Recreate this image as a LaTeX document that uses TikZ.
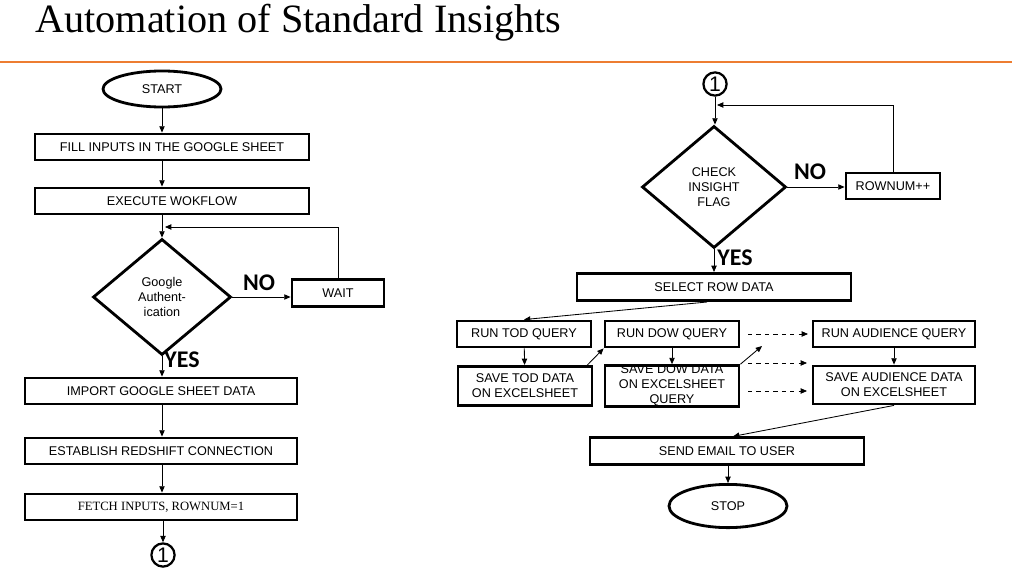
\documentclass[tikz,border=0pt]{standalone}
\usepackage{fontspec}
\setmainfont{Liberation Sans}
\newfontfamily\serifface{Liberation Serif}
\newfontfamily\tagface{Carlito}
\usetikzlibrary{positioning,shapes.geometric,arrows.meta,calc}
\definecolor{slideorange}{RGB}{237,125,49}

\begin{document}
\begin{tikzpicture}[
    x=0.025cm, y=-0.025cm,
    every node/.style={font=\fontsize{9}{10.5}\selectfont},
    block/.style={draw, line width=2pt, minimum height=0.65cm, align=center, inner sep=2pt},
    term/.style={draw, ellipse, line width=2pt, inner sep=0pt},
    decide/.style={draw, diamond, line width=2pt, inner sep=0pt, align=center},
    conn/.style={draw, circle, line width=1.6pt, inner sep=0pt, minimum size=0.58cm, font=\fontsize{15}{15}\selectfont},
    tag/.style={font=\tagface\bfseries\fontsize{17}{17}\selectfont, inner sep=0pt},
    arr/.style={-{Triangle[length=4.5pt,width=3.8pt]}, line width=0.6pt},
]
\useasboundingbox (0,0) rectangle (1012,578);

% Header: title and orange rule
\node[anchor=base west, inner sep=0pt, font=\serifface\fontsize{28.6}{28.6}\selectfont] (title) at (35,33) {Automation of Standard Insights};
\coordinate (ruleL) at (0,62);
\coordinate (ruleR) at (1012,62);
\draw[slideorange, line width=1.5pt] (ruleL) -- (ruleR);

% Left column
\node[term, minimum width=2.95cm, minimum height=0.9cm] (start) at (162,89) {START};
\node[block, minimum width=6.85cm] (fill) at (172,147) {FILL INPUTS IN THE GOOGLE SHEET};
\node[block, minimum width=6.85cm] (exec) at (172,201) {EXECUTE WOKFLOW};
\node[decide, minimum width=3.45cm, minimum height=2.9cm] (auth) at (162,297) {Google\\Authent-\\ication};
\node[block, minimum width=2.3cm, minimum height=0.66cm] (wait) at (338,293) {WAIT};
\node[tag] (noA) at (259,283) {NO};
\node[tag] (yesA) at (182,360) {YES};
\node[block, minimum width=6.8cm] (import) at (161,391) {IMPORT GOOGLE SHEET DATA};
\node[block, minimum width=6.8cm] (redshift) at (161,451) {ESTABLISH REDSHIFT CONNECTION};
\node[block, minimum width=6.8cm, font=\serifface\fontsize{9}{10.5}\selectfont] (fetch) at (161,507) {FETCH INPUTS, ROWNUM=1};
\node[conn] (conA) at (163,555) {1};

\draw[arr] (start) -- (start |- fill.north);
\draw[arr] (fill.south -| start) -- (start |- exec.north);
\draw[arr] (exec.south -| auth) -- (auth.north);
\draw[arr] (auth.east) -- (auth.east -| wait.west);
\coordinate (authin) at (165,227);
\draw[arr] (wait.north) |- (authin);
\draw[arr] (auth.south) -- (auth.south |- import.north);
\draw[arr] (import.south -| auth) -- (auth |- redshift.north);
\draw[arr] (redshift.south -| auth) -- (auth |- fetch.north);
\draw[arr] (fetch.south -| conA) -- (conA.north);

% Right column
\node[conn] (conB) at (715,84) {1};
\node[decide, minimum width=3.6cm, minimum height=3.05cm] (check) at (714,187) {CHECK\\INSIGHT\\FLAG};
\node[block, minimum width=2.35cm] (rownum) at (893,186) {ROWNUM++};
\node[tag] (noB) at (810,172) {NO};
\node[tag] (yesB) at (735,258) {YES};
\node[block, minimum width=6.85cm, minimum height=0.68cm] (select) at (714,287) {SELECT ROW DATA};

\draw[arr] (conB.south) -- (conB.south |- check.north);
\draw[arr] (check.east) -- (check.east -| rownum.west);
\coordinate (checkin) at (717,105);
\draw[arr] (rownum.north) |- (checkin);
\draw[arr] (check.south) -- (check.south |- select.north);

% Query rows
\node[block, minimum width=3.35cm] (tod) at (524,334) {RUN TOD QUERY};
\node[block, minimum width=3.35cm, minimum height=0.98cm] (savetod) at (525,386) {SAVE TOD DATA\\ON EXCELSHEET};
\node[block, minimum width=3.35cm] (dow) at (672,334) {RUN DOW QUERY};
\node[align=center, inner sep=0pt, font=\fontsize{9}{10.8}\selectfont] (savedowtxt) at (672,385) {SAVE DOW DATA\\ON EXCELSHEET\\QUERY};
\node[block, minimum width=3.35cm, minimum height=1.02cm] (savedow) at (672,386) {};
\node[block, minimum width=4.05cm] (aud) at (894,334) {RUN AUDIENCE QUERY};
\node[block, minimum width=4.05cm, minimum height=0.95cm] (saveaud) at (894,385) {SAVE AUDIENCE DATA\\ON EXCELSHEET};

\draw[arr] ($(select.south)+(-7,0)$) -- (tod.north);
\draw[arr] (tod) -- (savetod);
\draw[arr] ($(savetod.north east)+(-7,1)$) -- (dow.south west);
\draw[arr] (dow) -- (savedow);
\coordinate (dowout) at (762,346);
\draw[arr] (savedow.north east) -- (dowout);

% Dashed hand-over arrows
\coordinate (dashAs) at (748,334);
\coordinate (dashAe) at (808,334);
\coordinate (dashBs) at (748,363);
\coordinate (dashBe) at (807,363);
\coordinate (dashCs) at (748,391);
\coordinate (dashCe) at (807,391);
\draw[arr, dashed] (dashAs) -- (dashAe);
\draw[arr, dashed] (dashBs) -- (dashBe);
\draw[arr, dashed] (dashCs) -- (dashCe);
\draw[arr] (aud) -- (saveaud);

% Finish
\node[block, minimum width=6.85cm, minimum height=0.66cm] (send) at (727,451) {SEND EMAIL TO USER};
\node[term, minimum width=2.95cm, minimum height=1.08cm] (stop) at (728,506) {STOP};

\draw[arr] (saveaud.south) -- ($(send.north)+(6,0)$);
\draw[arr] (send.south -| stop) -- (stop.north);

\end{tikzpicture}
\end{document}
